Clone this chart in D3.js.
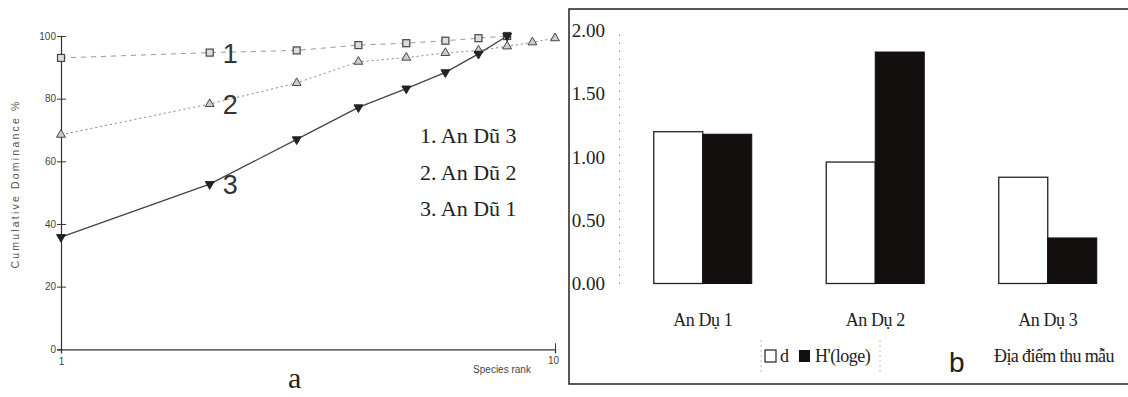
<!DOCTYPE html>
<html><head><meta charset="utf-8">
<script src="https://cdn.jsdelivr.net/npm/d3@7"></script>
<style>
body{margin:0;background:#fff;}
svg{display:block;}
</style></head>
<body>
<svg id="c" width="1128" height="397"></svg>
<script>
// ---------- data: panel a ----------
const ranks = [1,2,3,4,5,6,7,8,9,10];
const series1 = [93.0, 94.7, 95.4, 97.1, 97.7, 98.5, 99.3, 100];          // 1. An Dũ 3
const series2 = [68.5, 78.3, 85.0, 91.8, 93.1, 94.6, 95.4, 96.7, 98.0, 99.3]; // 2. An Dũ 2
const series3 = [35.8, 52.7, 67.0, 77.2, 83.2, 88.4, 94.3, 100];           // 3. An Dũ 1
const seriesNames = ["1. An Dũ 3", "2. An Dũ 2", "3. An Dũ 1"];
const yTicksA = [0,20,40,60,80,100];
const xTicksA = [1,10];

// ---------- data: panel b ----------
const sites = ["An Dụ 1", "An Dụ 2", "An Dụ 3"];
const dVals = [1.20, 0.96, 0.84];
const hVals = [1.18, 1.83, 0.36];
const yTicksB = [0, 0.5, 1.0, 1.5, 2.0];

const svg = d3.select("#c");

// ================= panel a =================
const xA = d3.scaleLog().domain([1,10]).range([61,555]);
const yA = d3.scaleLinear().domain([0,100]).range([349.3,36]);

const gA = svg.append("g");
// y axis
const yAx = gA.append("g").attr("transform","translate(61,0)")
  .call(d3.axisLeft(yA).tickValues(yTicksA).tickSize(4).tickPadding(1).tickFormat(d3.format("d")));
yAx.select(".domain").attr("stroke","#333").attr("stroke-width",1.2);
yAx.selectAll(".tick line").attr("stroke","#333");
yAx.selectAll(".tick text").attr("font-family","Liberation Sans, Arial, sans-serif")
  .attr("font-size",10).attr("fill","#444");
const yAx2 = gA.append("g").attr("transform","translate(61,0)")
  .call(d3.axisRight(yA).tickValues(yTicksA.filter(d=>d>0)).tickSize(5).tickFormat(""));
yAx2.select(".domain").remove();
yAx2.selectAll(".tick line").attr("stroke","#333");

// x axis
const xAx = gA.append("g").attr("transform",`translate(0,${yA(0)})`)
  .call(d3.axisBottom(xA).tickValues(xTicksA).tickSize(4).tickPadding(9).tickFormat(d3.format("d")));
xAx.select(".domain").attr("stroke","#333").attr("stroke-width",1.3);
xAx.selectAll(".tick line").attr("stroke","#333");
xAx.selectAll(".tick text").attr("font-family","Liberation Sans, Arial, sans-serif")
  .attr("font-size",10).attr("fill","#444");
xAx.selectAll(".tick").filter(d=>d===10).select("text").attr("dx",-2).attr("dy","0.2em");
xAx.selectAll(".tick").filter(d=>d===1).select("text").attr("dy","0.3em");
const xAx2 = gA.append("g").attr("transform",`translate(0,${yA(0)})`)
  .call(d3.axisTop(xA).tickValues([10]).tickSize(6).tickFormat(""));
xAx2.select(".domain").remove();
xAx2.selectAll(".tick line").attr("stroke","#333");

// axis titles
gA.append("text").attr("transform","translate(19,184) rotate(-90)")
  .attr("text-anchor","middle").attr("font-family","Liberation Sans, Arial, sans-serif")
  .attr("font-size",10.5).attr("letter-spacing",2.2).attr("fill","#555")
  .text("Cumulative Dominance %");
gA.append("text").attr("x",502).attr("y",373).attr("text-anchor","middle")
  .attr("font-family","Liberation Sans, Arial, sans-serif").attr("font-size",10)
  .attr("fill","#444").text("Species rank");

// lines
const line = d3.line().x((d,i)=>xA(ranks[i])).y(d=>yA(d));
gA.append("path").datum(series1).attr("d",line).attr("fill","none")
  .attr("stroke","#999").attr("stroke-width",1).attr("stroke-dasharray","5,5");
gA.append("path").datum(series2).attr("d",line).attr("fill","none")
  .attr("stroke","#888").attr("stroke-width",1).attr("stroke-dasharray","2,3");
gA.append("path").datum(series3).attr("d",line).attr("fill","none")
  .attr("stroke","#444").attr("stroke-width",1.3);

// markers
gA.selectAll(".m1").data(series1).enter().append("rect")
  .attr("x",(d,i)=>xA(ranks[i])-3.5).attr("y",d=>yA(d)-3.5)
  .attr("width",7).attr("height",7).attr("fill","#ddd").attr("stroke","#444").attr("stroke-width",1.2);
const triUp = d3.symbol().type(d3.symbolTriangle).size(34);
gA.selectAll(".m2").data(series2).enter().append("path")
  .attr("d",triUp).attr("transform",(d,i)=>`translate(${xA(ranks[i])},${yA(d)})`)
  .attr("fill","#ccc").attr("stroke","#444").attr("stroke-width",1);
gA.selectAll(".m3").data(series3).enter().append("path")
  .attr("d",triUp).attr("transform",(d,i)=>`translate(${xA(ranks[i])},${yA(d)}) rotate(180)`)
  .attr("fill","#222").attr("stroke","#222").attr("stroke-width",1);

// curve numbers
const numLbl = [[series1,"1"],[series2,"2"],[series3,"3"]];
numLbl.forEach(([s,t])=>{
  gA.append("text").attr("x",xA(2)+13).attr("y",yA(s[1])+10)
    .attr("font-family","Liberation Sans, Arial, sans-serif").attr("font-size",27)
    .attr("fill","#333").text(t);
});

// legend text
seriesNames.forEach((t,i)=>{
  gA.append("text").attr("x",420).attr("y",143+i*36.5)
    .attr("font-family","Liberation Serif, Times New Roman, serif").attr("font-size",22)
    .attr("fill","#222").text(t);
});
gA.append("text").attr("x",288).attr("y",388)
  .attr("font-family","Liberation Serif, Times New Roman, serif").attr("font-size",30)
  .attr("fill","#222").text("a");

// ================= panel b =================
const gB = svg.append("g");
// frame
gB.append("path").attr("d","M1130,9 H569 V384 H1130").attr("fill","none")
  .attr("stroke","#222").attr("stroke-width",1.5);

const xB = d3.scaleBand().domain(sites).range([616.5,1134]).padding(0);
const inner = d3.scaleBand().domain(["d","H"]).range([0,98]);
const yB = d3.scaleLinear().domain([0,2]).range([283.5,30.5]);

const yBx = gB.append("g").attr("transform","translate(619,0)")
  .call(d3.axisLeft(yB).tickValues(yTicksB).tickSize(0).tickPadding(14).tickFormat(d3.format(".2f")));
yBx.select(".domain").attr("stroke","#aaa").attr("stroke-dasharray","2,6").attr("stroke-width",1);
yBx.selectAll(".tick text").attr("font-family","Liberation Serif, Times New Roman, serif")
  .attr("font-size",19).attr("fill","#222");

const groups = gB.selectAll(".grp").data(sites).enter().append("g")
  .attr("transform",d=>`translate(${xB(d)+xB.bandwidth()/2-49},0)`);
groups.append("rect").attr("x",inner("d")).attr("width",inner.bandwidth())
  .attr("y",(d,i)=>yB(dVals[i])).attr("height",(d,i)=>yB(0)-yB(dVals[i]))
  .attr("fill","#fff").attr("stroke","#222").attr("stroke-width",1.3);
groups.append("rect").attr("x",inner("H")).attr("width",inner.bandwidth())
  .attr("y",(d,i)=>yB(hVals[i])).attr("height",(d,i)=>yB(0)-yB(hVals[i]))
  .attr("fill","#140f0f").attr("stroke","#140f0f").attr("stroke-width",1);

// category labels
gB.selectAll(".cat").data(sites).enter().append("text")
  .attr("x",d=>xB(d)+xB.bandwidth()/2).attr("y",326).attr("text-anchor","middle")
  .attr("font-family","Liberation Serif, Times New Roman, serif").attr("font-size",18)
  .attr("letter-spacing",-0.4).attr("fill","#222").text(d=>d);

// legend
const lg = gB.append("g");
lg.append("line").attr("x1",761).attr("x2",761).attr("y1",340).attr("y2",375)
  .attr("stroke","#bbb").attr("stroke-dasharray","2,3");
lg.append("line").attr("x1",880).attr("x2",880).attr("y1",340).attr("y2",375)
  .attr("stroke","#bbb").attr("stroke-dasharray","2,3");
lg.append("rect").attr("x",765).attr("y",350).attr("width",11).attr("height",12)
  .attr("fill","#fff").attr("stroke","#222").attr("stroke-width",1.2);
lg.append("text").attr("x",780).attr("y",362).attr("font-family","Liberation Serif, Times New Roman, serif")
  .attr("font-size",18).attr("fill","#222").text("d");
lg.append("rect").attr("x",799).attr("y",350).attr("width",11).attr("height",12)
  .attr("fill","#140f0f");
lg.append("text").attr("x",815).attr("y",362).attr("font-family","Liberation Serif, Times New Roman, serif")
  .attr("font-size",18).attr("letter-spacing",-0.5).attr("fill","#222").text("H'(loge)");
gB.append("text").attr("x",949).attr("y",372).attr("font-family","Liberation Sans, Arial, sans-serif")
  .attr("font-size",28).attr("fill","#222").text("b");
gB.append("text").attr("x",994).attr("y",362).attr("font-family","Liberation Serif, Times New Roman, serif")
  .attr("font-size",18).attr("letter-spacing",-0.6).attr("fill","#222").text("Địa điểm thu mẫu");
</script>
</body></html>
